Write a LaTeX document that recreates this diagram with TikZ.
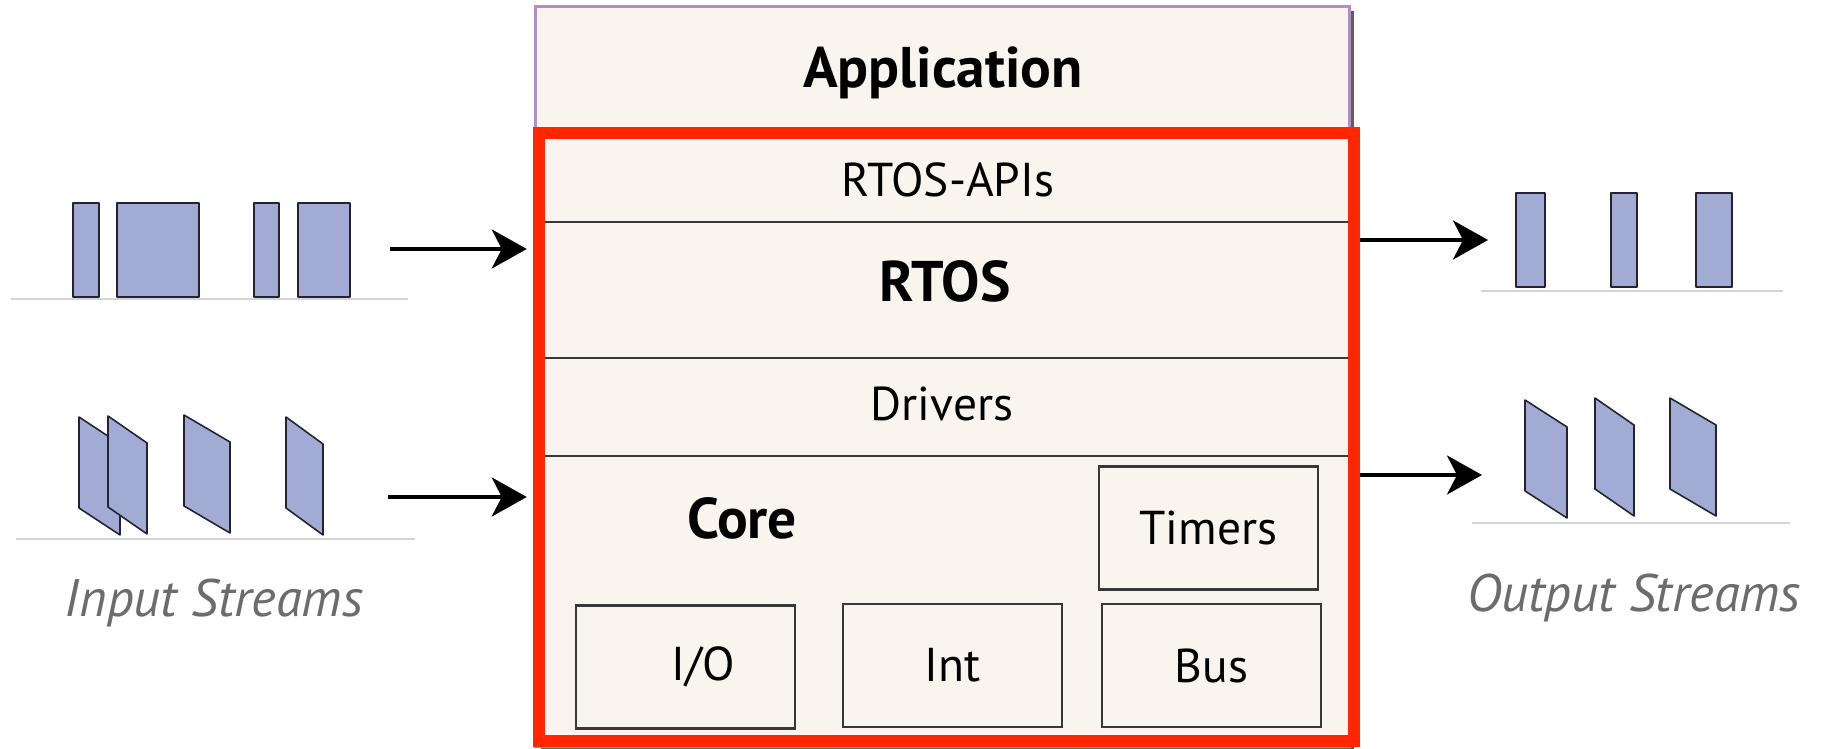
\documentclass[tikz,border=0pt]{standalone}
\usepackage{fontspec}
\setmainfont{PT Sans}
\usepackage{xcolor}
\usepackage{tikz}
\usetikzlibrary{arrows.meta}
\definecolor{panelfill}{RGB}{249,245,238}
\definecolor{framered}{RGB}{255,38,0}
\definecolor{stackpurple}{RGB}{178,142,200}
\definecolor{shadowgray}{RGB}{95,95,95}
\definecolor{pktblue}{RGB}{162,171,211}
\definecolor{pktedge}{RGB}{35,35,50}
\definecolor{floorgray}{RGB}{212,212,212}
\definecolor{captiongray}{RGB}{108,108,108}
\definecolor{rulegray}{RGB}{55,55,55}
\newcommand{\slantpkt}[3]{\draw[pkt] (#1,#2) -- ++(#3,27) -- ++(0,91) -- ++(-#3,-27) -- cycle;}

\begin{document}
\begin{tikzpicture}[x=0.01cm, y=-0.01cm,
    txt/.style={font=\fontsize{13.5}{16}\selectfont, inner sep=0pt},
    bigtxt/.style={font=\fontsize{16.3}{19}\selectfont\bfseries, inner sep=0pt},
    unit/.style={draw=rulegray, fill=panelfill, line width=0.6pt, minimum width=2.19cm, minimum height=1.23cm, inner sep=0pt, font=\fontsize{13.5}{16}\selectfont},
    pkt/.style={fill=pktblue, draw=pktedge, line width=0.45pt, line join=round},
    floor/.style={draw=floorgray, line width=0.6pt},
    flow/.style={-{Stealth[length=0.35cm, width=0.39cm, inset=0.1cm]}, line width=1pt},
    caption/.style={font=\fontsize{15}{18}\selectfont\itshape, text=captiongray, inner sep=0pt}]
    \fill[white] (0,0) rectangle (1830,749);
    \useasboundingbox (0,0) rectangle (1830,749);

    % software stack
    \fill[shadowgray] (541,11) rectangle (1354,750);
    \node[draw=stackpurple, fill=panelfill, line width=0.9pt, minimum width=8.13cm, minimum height=7.39cm, inner sep=0pt] (stack) at (942.5,376.5) {};
    \foreach \y in {222,358,456}
        \draw[rulegray, line width=0.7pt] (536,\y) -- (1349,\y);
    \node[bigtxt] (app) at (943,73) {Application};
    \node[txt] (api) at (948,180) {RTOS-APIs};
    \node[bigtxt] (rtos) at (945,281) {RTOS};
    \node[txt] (drv) at (942,404) {Drivers};
    \node[bigtxt] (core) at (742,518) {Core};
    \node[unit] (tmr) at (1208.5,528) {Timers};
    \node[unit] (io) at (685.5,667) {\hspace*{0.36cm}I/O};
    \node[unit] (int) at (952.5,665.5) {Int};
    \node[unit] (bus) at (1211.5,665.5) {Bus};
    \node[draw=framered, line width=3.4pt, minimum width=8.15cm, minimum height=6.08cm, inner sep=0pt] (os) at (946.5,437) {};

    % input streams
    \draw[pkt] (73,203) rectangle (99,297);
    \draw[pkt] (117,203) rectangle (199,297);
    \draw[pkt] (254,203) rectangle (279,297);
    \draw[pkt] (298,203) rectangle (350,297);
    \draw[floor] (11,299) -- (408,299);
    \slantpkt{79}{417}{41}
    \slantpkt{108}{416}{39}
    \slantpkt{184}{415}{46}
    \slantpkt{286}{417}{37}
    \draw[floor] (16,539) -- (415,539);
    \node[caption] (instr) at (214,603) {Input Streams};

    % output streams
    \draw[pkt] (1516,193) rectangle (1545,287);
    \draw[pkt] (1611,193) rectangle (1637,287);
    \draw[pkt] (1696,193) rectangle (1732,287);
    \draw[floor] (1481,291) -- (1783,291);
    \slantpkt{1525}{400}{42}
    \slantpkt{1595}{398}{39}
    \slantpkt{1670}{398}{46}
    \draw[floor] (1472,523) -- (1790,523);
    \node[caption] (outstr) at (1634,598) {Output Streams};

    % arrows
    \coordinate (inA) at (390,249);
    \coordinate (inB) at (388,497);
    \coordinate (outA) at (1488,240);
    \coordinate (outB) at (1482,475);
    \draw[flow, shorten >=0.06cm] (inA) -- (inA -| os.west);
    \draw[flow, shorten >=0.06cm] (inB) -- (inB -| os.west);
    \draw[flow] (os.east |- outA) -- (outA);
    \draw[flow] (os.east |- outB) -- (outB);
\end{tikzpicture}
\end{document}
